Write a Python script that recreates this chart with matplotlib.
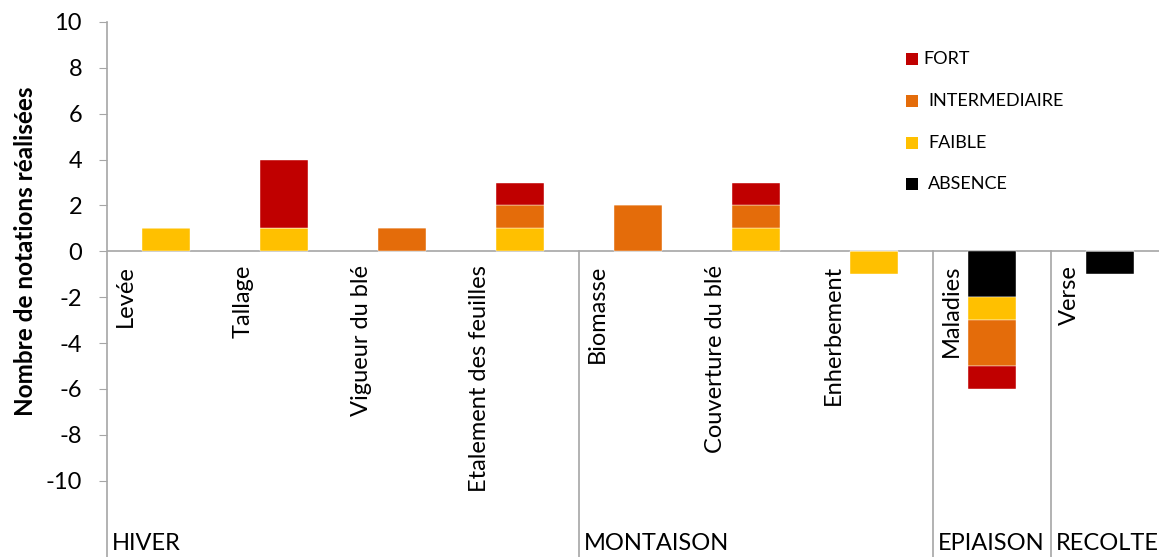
import matplotlib
matplotlib.use("Agg")
import matplotlib.pyplot as plt
from matplotlib.patches import Rectangle
import numpy as np

plt.rcParams['font.family'] = ['Lato', 'DejaVu Sans']

categories = ["Levée", "Tallage", "Vigueur du blé", "Etalement des feuilles",
              "Biomasse", "Couverture du blé", "Enherbement", "Maladies", "Verse"]
groups = ["HIVER", "MONTAISON", "EPIAISON", "RECOLTE"]
group_sizes = [4, 3, 1, 1]

series_names = ["ABSENCE", "FAIBLE", "INTERMEDIAIRE", "FORT"]
absence = [0, 0, 0, 0, 0, 0, 0, -2, -1]
faible = [1, 1, 0, 1, 0, 1, -1, -1, 0]
intermediaire = [0, 0, 1, 1, 2, 1, 0, -2, 0]
fort = [0, 3, 0, 1, 0, 1, 0, -1, 0]
colors = {"FORT": "#C00000", "INTERMEDIAIRE": "#E46C0A",
          "FAIBLE": "#FFC000", "ABSENCE": "#000000"}
legend_order = ["FORT", "INTERMEDIAIRE", "FAIBLE", "ABSENCE"]
yticks = [-10, -8, -6, -4, -2, 0, 2, 4, 6, 8, 10]

W, H = 1159, 557
fig = plt.figure(figsize=(W / 100, H / 100), dpi=100)
ax = fig.add_axes([107 / W, 0, (1169 - 107) / W, (H - 22) / H])

x = np.arange(len(categories))
pos_bottom = np.zeros(len(categories))
neg_bottom = np.zeros(len(categories))
for name, vals in zip(series_names, [absence, faible, intermediaire, fort]):
    vals = np.array(vals, dtype=float)
    bottoms = np.where(vals >= 0, pos_bottom, neg_bottom)
    ax.bar(x, vals, bottom=bottoms, width=0.407, color=colors[name],
           edgecolor='white', linewidth=0.3)
    pos_bottom += np.where(vals > 0, vals, 0)
    neg_bottom += np.where(vals < 0, vals, 0)

ppu = 22.95
ymin = -(H - 251) / ppu
ax.set_ylim(ymin, 10)
ax.set_xlim(-0.5, len(categories) - 0.5)

for s in ['top', 'right', 'bottom']:
    ax.spines[s].set_visible(False)
ax.spines['left'].set_color('#A6A6A6')
ax.spines['left'].set_linewidth(1.2)
ax.axhline(0, color='#A6A6A6', linewidth=1.2, zorder=0)

ax.set_xticks([])
ax.set_yticks(yticks)
ax.set_yticklabels([str(v) for v in yticks], fontsize=17)
ax.tick_params(axis='y', direction='out', length=6, color='#A6A6A6', pad=12)

for i, c in enumerate(categories):
    ax.text(i - 0.5 + 0.155, -0.6, c, rotation=90, ha='center', va='top',
            fontsize=17)

start = 0
for g, n in zip(groups, group_sizes):
    if start > 0:
        ax.plot([start - 0.5, start - 0.5], [0, ymin], color='#A6A6A6',
                linewidth=1.2, clip_on=False)
    ax.text(start - 0.5 + 0.04, -(543 - 251) / ppu, g, ha='left',
            va='center', fontsize=17)
    start += n

fig.text(26 / W, 1 - 251 / H, "Nombre de notations réalisées", rotation=90,
         ha='center', va='center', fontsize=17.5, fontweight='bold')

# legend
row_y = [59, 101, 143, 184]
text_x = [923, 928, 928, 928]
for name, ry, tx in zip(legend_order, row_y, text_x):
    fig.patches.append(Rectangle((906 / W, 1 - (ry + 6) / H), 12 / W, 12 / H,
                                 transform=fig.transFigure,
                                 facecolor=colors[name], edgecolor='none'))
    fig.text(tx / W, 1 - ry / H, name, ha='left', va='center', fontsize=13)

fig.savefig("out.png", dpi=100)
